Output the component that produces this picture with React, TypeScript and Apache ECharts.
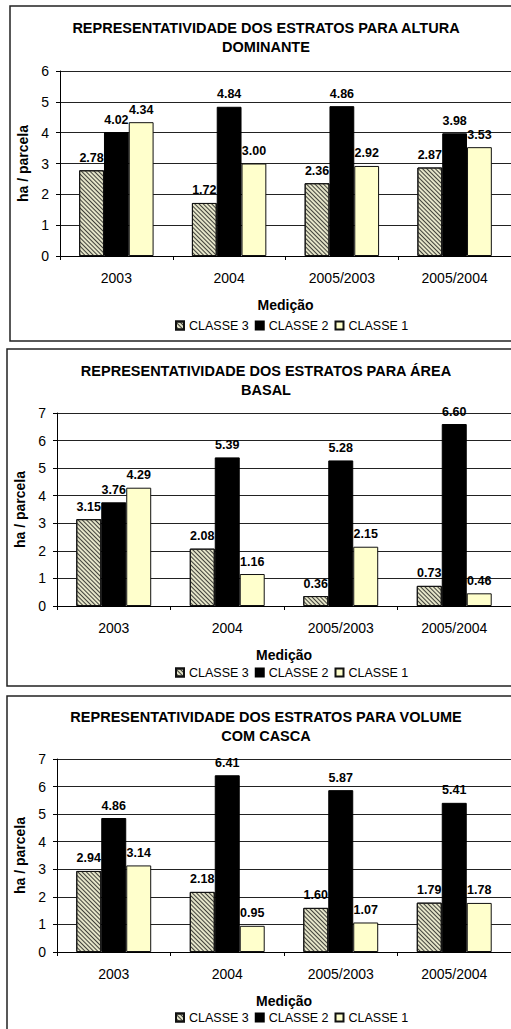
import React, { useEffect, useRef } from "react";
import * as echarts from "echarts";

const categories = ["2003", "2004", "2005/2003", "2005/2004"];
const seriesNames = ["CLASSE 3", "CLASSE 2", "CLASSE 1"];

const alturaClasse3 = [2.78, 1.72, 2.36, 2.87];
const alturaClasse2 = [4.02, 4.84, 4.86, 3.98];
const alturaClasse1 = [4.34, 3.0, 2.92, 3.53];

const areaClasse3 = [3.15, 2.08, 0.36, 0.73];
const areaClasse2 = [3.76, 5.39, 5.28, 6.6];
const areaClasse1 = [4.29, 1.16, 2.15, 0.46];

const volumeClasse3 = [2.94, 2.18, 1.6, 1.79];
const volumeClasse2 = [4.86, 6.41, 5.87, 5.41];
const volumeClasse1 = [3.14, 0.95, 1.07, 1.78];

const titles = [
  ["REPRESENTATIVIDADE DOS ESTRATOS PARA ALTURA", "DOMINANTE"],
  ["REPRESENTATIVIDADE DOS ESTRATOS PARA ÁREA", "BASAL"],
  ["REPRESENTATIVIDADE DOS ESTRATOS PARA VOLUME", "COM CASCA"],
];
const yMaxes = [6, 7, 7];
const xAxisTitle = "Medição";
const yAxisTitle = "ha / parcela";

const FONT = "Liberation Sans, Arial, sans-serif";

export default function App() {
  const ref = useRef<HTMLDivElement>(null);
  useEffect(() => {
    if (!ref.current) return;
    const chart = echarts.init(ref.current, null, { renderer: "svg" });

    const data = [
      [alturaClasse3, alturaClasse2, alturaClasse1],
      [areaClasse3, areaClasse2, areaClasse1],
      [volumeClasse3, volumeClasse2, volumeClasse1],
    ];
    const layout = [
      { frame: { x: 10, y: 6, h: 335 }, grid: { left: 60, top: 71, width: 452, height: 185 }, titleY: 28, legendY: 326 },
      { frame: { x: 7, y: 349, h: 337 }, grid: { left: 57, top: 413, width: 457, height: 193 }, titleY: 371, legendY: 673 },
      { frame: { x: 7, y: 696, h: 345 }, grid: { left: 57, top: 759, width: 457, height: 193 }, titleY: 717, legendY: 1018 },
    ];

    const styles = [
      {
        color: "#e4e4c8",
        borderColor: "#111",
        borderWidth: 1,
        decal: {
          symbol: "rect",
          symbolSize: 1,
          color: "#40403a",
          dashArrayX: [1, 0],
          dashArrayY: [1, 1.6],
          rotation: Math.PI / 4,
        },
      },
      { color: "#000000", borderColor: "#000", borderWidth: 1 },
      { color: "#ffffcc", borderColor: "#111", borderWidth: 1 },
    ];

    const grids: any[] = [];
    const xAxes: any[] = [];
    const yAxes: any[] = [];
    const series: any[] = [];
    const legends: any[] = [];
    const graphics: any[] = [];

    layout.forEach((L, p) => {
      grids.push({ ...L.grid, containLabel: false });
      xAxes.push({
        type: "category",
        gridIndex: p,
        data: categories,
        axisLine: { lineStyle: { color: "#000", width: 1 } },
        axisTick: { show: true, length: 4, lineStyle: { color: "#000" } },
        axisLabel: { fontSize: 14, color: "#000", margin: 15, fontFamily: FONT },
        name: xAxisTitle,
        nameLocation: "middle",
        nameGap: 42,
        nameTextStyle: { fontSize: 14, fontWeight: "bold", color: "#000", fontFamily: FONT },
      });
      yAxes.push({
        type: "value",
        gridIndex: p,
        min: 0,
        max: yMaxes[p],
        interval: 1,
        axisLine: { show: true, lineStyle: { color: "#000", width: 1 } },
        axisTick: { show: true, length: 4, lineStyle: { color: "#000" } },
        splitLine: { show: true, lineStyle: { color: "#222", width: 1 } },
        axisLabel: { fontSize: 14, color: "#000", margin: 11, fontFamily: FONT },
        name: yAxisTitle,
        nameLocation: "middle",
        nameRotate: 90,
        nameGap: 26,
        nameTextStyle: { fontSize: 14, fontWeight: "bold", color: "#000", fontFamily: FONT },
      });
      seriesNames.forEach((name, s) => {
        series.push({
          type: "bar",
          name,
          xAxisIndex: p,
          yAxisIndex: p,
          data: data[p][s],
          barGap: "0%",
          barCategoryGap: "34%",
          itemStyle: styles[s],
          emphasis: { disabled: true },
          label: {
            show: true,
            position: "top",
            distance: 6,
            fontSize: 12.5,
            fontWeight: "bold",
            color: "#000",
            fontFamily: FONT,
            formatter: (v: any) => Number(v.value).toFixed(2),
          },
        });
      });
      legends.push({
        data: seriesNames,
        left: 175,
        top: L.legendY - 7,
        itemWidth: 8,
        itemHeight: 8,
        itemGap: 6,
        padding: 0,
        icon: "rect",
        selectedMode: false,
        textStyle: { fontSize: 12.5, color: "#000", fontFamily: FONT },
      });
      graphics.push({
        type: "rect",
        z: -10,
        shape: { x: L.frame.x, y: L.frame.y, width: 540, height: L.frame.h },
        style: { fill: "#fff", stroke: "#222", lineWidth: 1.5 },
      });
      titles[p].forEach((t, i) => {
        graphics.push({
          type: "text",
          z: 10,
          x: 266,
          y: L.titleY + i * 19,
          style: {
            text: t,
            fontSize: 14.5,
            fontWeight: "bold",
            fill: "#000",
            fontFamily: FONT,
            textAlign: "center",
            textVerticalAlign: "middle",
          },
        });
      });
    });

    chart.setOption({
      animation: false,
      backgroundColor: "#fff",
      grid: grids,
      xAxis: xAxes,
      yAxis: yAxes,
      series,
      legend: legends,
      graphic: graphics,
    });
    return () => chart.dispose();
  }, []);
  return (
    <div
      ref={ref}
      style={{ position: "fixed", left: 0, top: 0, width: 511, height: 1029 }}
    />
  );
}
